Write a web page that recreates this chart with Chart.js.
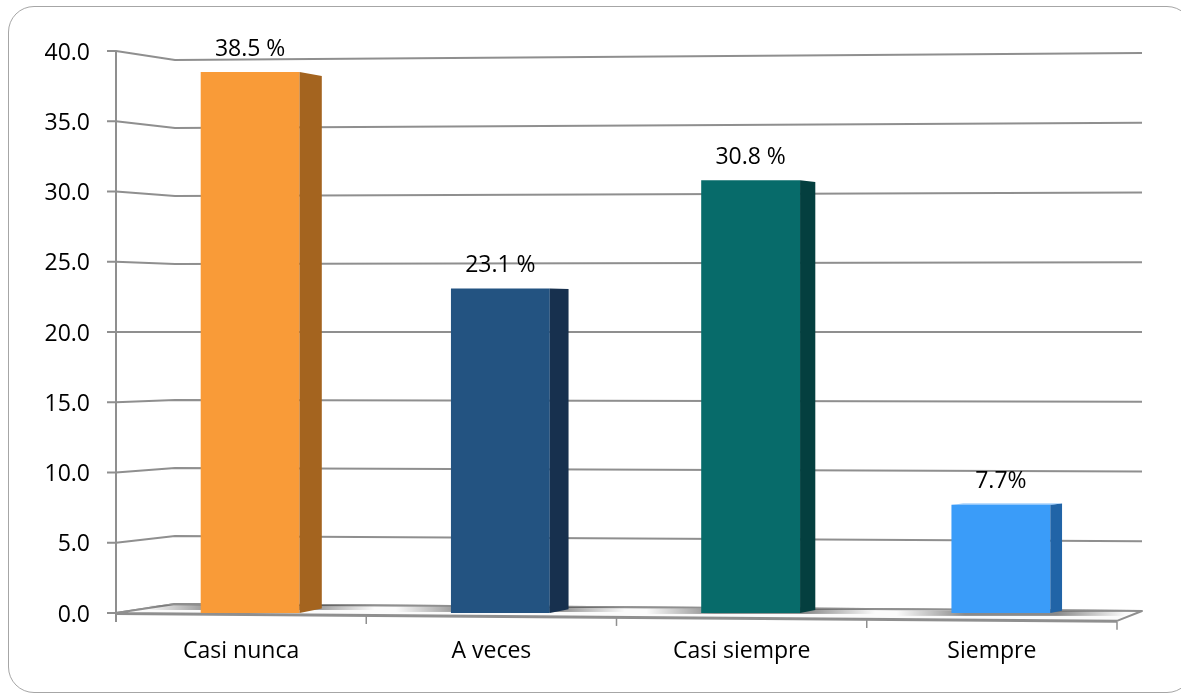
<!DOCTYPE html>
<html>
<head>
<meta charset="utf-8">
<script src="https://cdn.jsdelivr.net/npm/chart.js@4.4.0/dist/chart.umd.min.js"></script>
<style>
    html, body { margin: 0; padding: 0; background: #fff; overflow: hidden; }
    #marco { position: absolute; left: 8px; top: 6px; width: 1183px; height: 685px;
             border: 1.5px solid #a6a6a6; border-radius: 26px; }
    #grafico { position: absolute; left: 0; top: 0; }
</style>
</head>
<body>
<div id="marco"></div>
<canvas id="grafico" width="1181" height="693"></canvas>
<script>
// Datos del gráfico
const categorias = ['Casi nunca', 'A veces', 'Casi siempre', 'Siempre'];
const porcentajes = [38.5, 23.1, 30.8, 7.7];
const etiquetasDatos = ['38.5 %', '23.1 %', '30.8 %', '7.7%'];
const ticksY = [0, 5, 10, 15, 20, 25, 30, 35, 40];

// Colores: cara frontal, cara lateral y tapa
const coloresFrente = ['#f99b38', '#235381', '#076b6a', '#3a9cf9'];
const coloresLado = ['#a4641f', '#17304e', '#043f3f', '#2164a7'];
const coloresTapa = ['#fbb872', '#3a6a98', '#1b8584', '#7cbcfb'];

const FUENTE = '"Open Sans", "Noto Sans", sans-serif';
const GRIS = '#8f8f8f';
const DESPLAZA_BARRA = 9;     // las barras se ven un poco a la derecha (perspectiva)
const FONDO_IZQ = 59, FONDO_DER = 25;   // profundidad de la pared del fondo
const K_IZQ = 0.968, K_DER = 0.993, K_FRENTE_DER = 1.028;

// Efecto 3D: paredes, piso, caras laterales y etiquetas
const efecto3d = {
    id: 'efecto3d',
    beforeDatasetsDraw(chart) {
        const ctx = chart.ctx;
        const ys = chart.scales.y, xs = chart.scales.x;
        const izq = xs.left, der = xs.right;
        const c = ys.getPixelForValue((ys.min + ys.max) / 2);
        const y0 = ys.getPixelForValue(0);
        const atrasIzq = izq + FONDO_IZQ, atrasDer = der + FONDO_DER;

        ctx.save();
        ctx.strokeStyle = GRIS;
        ctx.lineWidth = 2;
        ctx.lineJoin = 'round';

        // lineas de la pared del fondo
        ticksY.forEach(v => {
            const yf = ys.getPixelForValue(v);
            const yl = c + (yf - c) * K_IZQ;
            const yr = c + (yf - c) * K_DER;
            ctx.beginPath();
            ctx.moveTo(izq - 9, yf);
            ctx.lineTo(izq, yf);
            ctx.lineTo(atrasIzq, yl);
            ctx.lineTo(atrasDer, yr);
            ctx.stroke();
        });

        // piso
        const yFrenteDer = c + (y0 - c) * K_FRENTE_DER;
        const frente = x => y0 + (yFrenteDer - y0) * (x - izq) / (der - izq);
        ctx.beginPath();
        ctx.moveTo(izq, y0);
        ctx.lineTo(atrasIzq, c + (y0 - c) * K_IZQ);
        ctx.lineTo(atrasDer, c + (y0 - c) * K_DER);
        ctx.lineTo(der, yFrenteDer);
        ctx.closePath();
        ctx.fillStyle = '#fbfbfb';
        ctx.fill();
        ctx.stroke();
        ctx.beginPath();
        ctx.moveTo(izq, y0 + 1);
        ctx.lineTo(der, yFrenteDer + 1);
        ctx.stroke();

        // sombras de las barras sobre el piso
        const meta = chart.getDatasetMeta(0);
        meta.data.forEach(b => {
            const xl = b.x - b.width / 2 + DESPLAZA_BARRA;
            const xr = b.x + b.width / 2 + DESPLAZA_BARRA;
            const yb = frente(b.x) - 2;
            const g = ctx.createLinearGradient(xl - 55, 0, xr + 75, 0);
            g.addColorStop(0, 'rgba(0,0,0,0)');
            g.addColorStop(0.3, 'rgba(0,0,0,0.45)');
            g.addColorStop(0.7, 'rgba(0,0,0,0.45)');
            g.addColorStop(1, 'rgba(0,0,0,0)');
            ctx.fillStyle = g;
            ctx.fillRect(xl - 55, yb - 7, xr - xl + 130, 5);
        });

        // eje vertical
        ctx.beginPath();
        ctx.moveTo(izq, ys.getPixelForValue(ys.max));
        ctx.lineTo(izq, y0 + 9);
        ctx.stroke();

        // marcas de categorias en el borde frontal
        ctx.lineWidth = 1.5;
        for (let i = 0; i <= categorias.length; i++) {
            const x = izq + i * (der - izq) / categorias.length;
            ctx.beginPath();
            ctx.moveTo(x, frente(x) + 1);
            ctx.lineTo(x, frente(x) + 9);
            ctx.stroke();
        }
        ctx.restore();

        // desplazar las barras
        ctx.save();
        ctx.translate(DESPLAZA_BARRA, 0);
    },
    afterDatasetsDraw(chart) {
        const ctx = chart.ctx;
        ctx.restore();
        const ys = chart.scales.y, xs = chart.scales.x;
        const c = ys.getPixelForValue((ys.min + ys.max) / 2);
        const meta = chart.getDatasetMeta(0);

        meta.data.forEach((b, i) => {
            const xl = b.x - b.width / 2 + DESPLAZA_BARRA;
            const xr = b.x + b.width / 2 + DESPLAZA_BARRA;
            const frac = (b.x - xs.left) / (xs.right - xs.left);
            const d = 24 - 14 * frac;
            const s = d * 0.0007;
            const yt = b.y, yb = b.base;

            // cara lateral
            ctx.beginPath();
            ctx.moveTo(xr, yt);
            ctx.lineTo(xr + d, yt + (c - yt) * s);
            ctx.lineTo(xr + d, yb + (c - yb) * s);
            ctx.lineTo(xr, yb);
            ctx.closePath();
            ctx.fillStyle = coloresLado[i];
            ctx.fill();

            // tapa (solo visible bajo la linea de horizonte)
            if (yt > c) {
                const dy = (c - yt) * s;
                ctx.beginPath();
                ctx.moveTo(xl, yt);
                ctx.lineTo(xl + d, yt + dy);
                ctx.lineTo(xr + d, yt + dy);
                ctx.lineTo(xr, yt);
                ctx.closePath();
                ctx.fillStyle = coloresTapa[i];
                ctx.fill();
            }

            // etiqueta de valor
            ctx.save();
            ctx.fillStyle = '#000';
            ctx.font = '23px ' + FUENTE;
            ctx.textAlign = 'center';
            ctx.textBaseline = 'middle';
            ctx.fillText(etiquetasDatos[i], (xl + xr) / 2, yt - 23);
            ctx.restore();
        });
    }
};

new Chart(document.getElementById('grafico'), {
    type: 'bar',
    data: {
        labels: categorias,
        datasets: [{
            data: porcentajes,
            backgroundColor: coloresFrente,
            borderWidth: 0,
            categoryPercentage: 1,
            barPercentage: 0.395
        }]
    },
    options: {
        responsive: false,
        animation: false,
        layout: { padding: { top: 51, right: 64, left: 0, bottom: 0 } },
        plugins: {
            legend: { display: false },
            tooltip: { enabled: false }
        },
        scales: {
            x: {
                grid: { display: false },
                border: { display: false },
                ticks: {
                    color: '#000',
                    font: { family: FUENTE, size: 23 },
                    padding: 17
                },
                afterFit: s => { s.height = 80; }
            },
            y: {
                min: 0,
                max: 40,
                grid: { display: false },
                border: { display: false },
                afterBuildTicks: s => { s.ticks = ticksY.map(v => ({ value: v })); },
                ticks: {
                    color: '#000',
                    font: { family: FUENTE, size: 23 },
                    padding: 18,
                    labelOffset: 2,
                    callback: v => Number(v).toFixed(1)
                },
                afterFit: s => { s.width = 116; }
            }
        }
    },
    plugins: [efecto3d]
});
</script>
</body>
</html>
